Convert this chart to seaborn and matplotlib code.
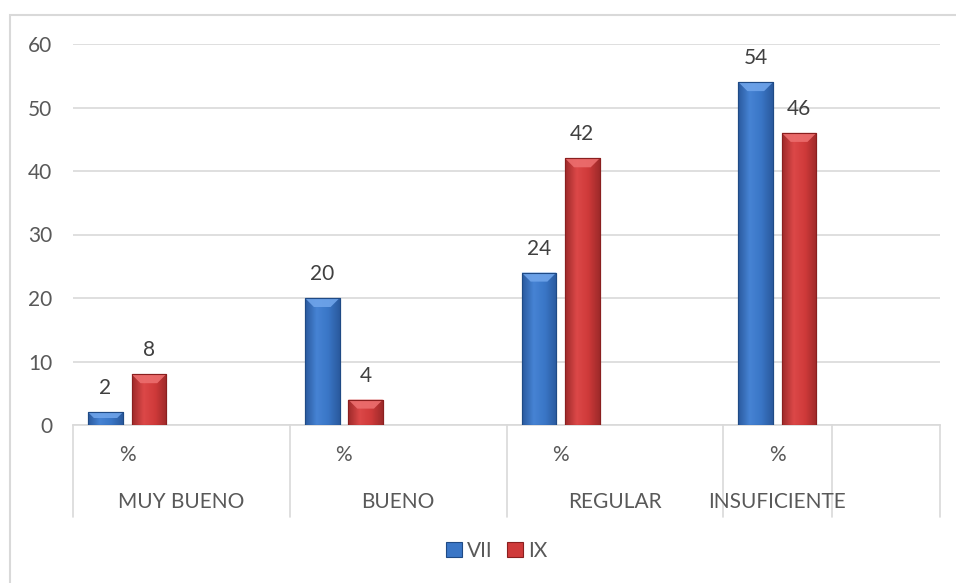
import numpy as np
import pandas as pd
import matplotlib
matplotlib.use("Agg")
import matplotlib.pyplot as plt
import seaborn as sns
from matplotlib.patches import Rectangle, Polygon
from matplotlib.colors import LinearSegmentedColormap
from matplotlib.lines import Line2D

# --- data ---------------------------------------------------------------
groups = ["MUY BUENO", "BUENO", "REGULAR", "INSUFICIENTE"]
series = ["VII", "IX"]
vii = [2, 20, 24, 54]
ix = [8, 4, 42, 46]
unit_label = "%"
y_ticks = [0, 10, 20, 30, 40, 50, 60]

# each group has one data slot ("%") followed by an empty spacer slot
slots = []
for g in groups:
    slots += [g + "|%", g + "|"]

rows = []
for g, a, b in zip(groups, vii, ix):
    rows.append({"slot": g + "|%", "serie": "VII", "valor": a})
    rows.append({"slot": g + "|%", "serie": "IX", "valor": b})
df = pd.DataFrame(rows)

# --- style --------------------------------------------------------------
sns.set_theme(style="white")
plt.rcParams["font.family"] = ["Lato", "DejaVu Sans"]
TXT = "#595959"
GRID = "#D9D9D9"
FS = 15

colors = {"VII": "#3A76C6", "IX": "#CF3A3A"}
edges = {"VII": "#1F4A85", "IX": "#8A1F1F"}
shade = {
    "VII": ["#2A5A9E", "#4683D4", "#3A76C6", "#2A5A9E"],
    "IX": ["#9E2A2A", "#DC4848", "#CF3A3A", "#9E2A2A"],
}
caps = {"VII": "#6FA4EA", "IX": "#EC6E6E"}

W, H = 956, 583
fig = plt.figure(figsize=(W / 100, H / 100), dpi=100)
ax = fig.add_axes([73 / W, 1 - 425 / H, 867 / W, 381 / H])

sns.barplot(data=df, x="slot", y="valor", hue="serie", order=slots,
            hue_order=series, palette=colors, width=0.8, gap=0.2,
            ax=ax, legend=False, saturation=1, zorder=3)

ax.set_ylim(0, 60)
ax.set_xlim(-0.5, len(slots) - 0.5)
ax.set_yticks(y_ticks)
ax.yaxis.grid(True, color=GRID, linewidth=1.2, zorder=0)
ax.set_axisbelow(True)
for s in ["left", "right", "top"]:
    ax.spines[s].set_visible(False)
ax.spines["bottom"].set_color(GRID)
ax.spines["bottom"].set_linewidth(1.2)
ax.tick_params(axis="y", length=0, labelsize=FS, labelcolor=TXT, pad=15)
ax.set_xticks([])
ax.set_xlabel("")
ax.set_ylabel("")

# bevelled bar look: horizontal shading and a light top cap
px_x = len(slots) / 867.0
px_y = 60 / 381.0
for cont, name in zip(ax.containers, series):
    cmap = LinearSegmentedColormap.from_list(name, shade[name])
    grad = np.linspace(0, 1, 64).reshape(1, -1)
    for p in cont.patches:
        x0, y0 = p.get_x(), p.get_y()
        w, h = p.get_width(), p.get_height()
        p.set_edgecolor(edges[name])
        p.set_linewidth(0.8)
        im = ax.imshow(grad, extent=[x0, x0 + w, y0, y0 + h], aspect="auto",
                       cmap=cmap, zorder=3.1, interpolation="bicubic")
        im.set_clip_path(p)
        cap_px = min(9.0, 0.45 * h / px_y)
        ch = cap_px * px_y
        d = cap_px * px_x
        top = y0 + h
        ax.add_patch(Polygon([(x0, top), (x0 + w, top), (x0 + w - d, top - ch),
                              (x0 + d, top - ch)], closed=True,
                             facecolor=caps[name], edgecolor="none",
                             alpha=0.9, zorder=3.2))
        ax.add_patch(Rectangle((x0, y0), w, h, facecolor="none",
                               edgecolor=edges[name], linewidth=0.8, zorder=3.3))
    ax.bar_label(cont, fmt="%g", padding=10, fontsize=FS, color="#404040")

ax.set_ylim(0, 60)
ax.set_xlim(-0.5, len(slots) - 0.5)

# two-level category axis below the plot
trans = ax.get_xaxis_transform()
depth = -(517 - 425) / 381.0
bounds = [-0.5, 1.5, 3.5, 5.5, 6.5, 7.5]
for b in bounds:
    ax.add_line(Line2D([b, b], [0, depth], transform=trans, color=GRID,
                       linewidth=1.2, clip_on=False))
for i, g in enumerate(groups):
    ax.text(2 * i, -(455 - 425) / 381.0, unit_label, transform=trans,
            ha="center", va="center", fontsize=FS, color=TXT)
group_centers = [0.5, 2.5, 4.5, 6.0]
for g, c in zip(groups, group_centers):
    ax.text(c, -(502 - 425) / 381.0, g, transform=trans, ha="center",
            va="center", fontsize=FS, color=TXT)

# legend
handles = [Rectangle((0, 0), 1, 1, facecolor=colors[s], edgecolor=edges[s],
                     linewidth=0.8) for s in series]
fig.legend(handles, series, loc="center", bbox_to_anchor=(497 / W, 1 - 551 / H),
           ncol=2, frameon=False, fontsize=FS, labelcolor=TXT,
           handlelength=0.75, handleheight=0.75, handletextpad=0.25,
           columnspacing=0.7)

# chart area border
fig.patches.append(Rectangle((10 / W, -0.05), 1.1, 1 - 15 / H + 0.05,
                             transform=fig.transFigure, facecolor="none",
                             edgecolor=GRID, linewidth=1.5))

fig.savefig("out.png", dpi=100)
